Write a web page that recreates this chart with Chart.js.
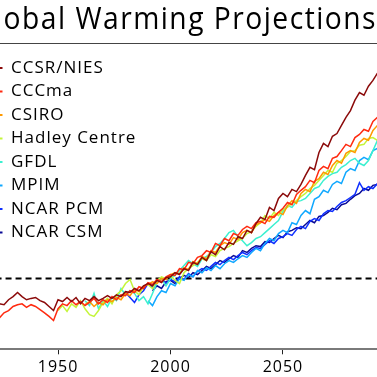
<!DOCTYPE html>
<html>
<head>
<meta charset="utf-8">
<script src="https://cdn.jsdelivr.net/npm/chart.js@4.4.1/dist/chart.umd.min.js"></script>
<style>
  html, body { margin: 0; padding: 0; background: #fff; overflow: hidden; }
  #warmingChart { position: absolute; top: 0; }
</style>
</head>
<body>
<canvas id="warmingChart"></canvas>
<script>
// model runs, temperature change in degC, one value every 2 years from the start year
const seriesNames = ['CCSR/NIES', 'CCCma', 'CSIRO', 'Hadley Centre', 'GFDL', 'MPIM', 'NCAR PCM', 'NCAR CSM'];
const startYears = [1920, 1920, 1962, 1950, 1962, 1990, 1980, 1992];
const yearStep = 2;

const ccsrNies = [
  -0.53, -0.62, -0.56, -0.58, -0.47, -0.40, -0.31, -0.40, -0.47, -0.44,
  -0.42, -0.49, -0.53, -0.62, -0.71, -0.47, -0.51, -0.42, -0.51, -0.42,
  -0.56, -0.44, -0.49, -0.40, -0.49, -0.44, -0.38, -0.44, -0.36, -0.40,
  -0.29, -0.31, -0.22, -0.27, -0.16, -0.11, -0.16, -0.04, -0.09, 0.02,
  0.04, 0.13, 0.09, 0.22, 0.18, 0.36, 0.31, 0.47, 0.40, 0.60,
  0.53, 0.71, 0.64, 0.80, 0.76, 0.93, 0.89, 1.07, 1.02, 1.22,
  1.36, 1.31, 1.58, 1.51, 1.78, 1.89, 1.82, 1.98, 1.93, 2.09,
  2.29, 2.47, 2.42, 2.80, 3.00, 2.93, 3.16, 3.22, 3.40, 3.58,
  3.73, 3.96, 4.13, 4.07, 4.27, 4.40, 4.56, 4.49, 4.71, 4.80,
  4.84
];
const cccma = [
  -0.84, -0.89, -0.87, -0.76, -0.71, -0.62, -0.58, -0.56, -0.64, -0.58,
  -0.62, -0.69, -0.76, -0.84, -0.93, -0.67, -0.56, -0.60, -0.49, -0.58,
  -0.51, -0.60, -0.53, -0.44, -0.56, -0.47, -0.53, -0.40, -0.47, -0.36,
  -0.38, -0.27, -0.31, -0.18, -0.22, -0.09, -0.13, -0.02, -0.07, 0.04,
  0.09, 0.07, 0.22, 0.20, 0.36, 0.33, 0.47, 0.51, 0.62, 0.58,
  0.78, 0.73, 0.89, 0.84, 1.00, 0.96, 1.09, 1.16, 1.11, 1.24,
  1.27, 1.22, 1.38, 1.36, 1.47, 1.56, 1.69, 1.64, 1.87, 1.96,
  2.04, 2.18, 2.13, 2.40, 2.49, 2.44, 2.67, 2.71, 2.84, 2.98,
  2.93, 3.13, 3.20, 3.31, 3.27, 3.49, 3.58, 3.64, 3.60, 3.78,
  3.84
];
const csiro = [
  -0.58, -0.51, -0.62, -0.53, -0.58, -0.47, -0.51, -0.42, -0.47, -0.33,
  -0.38, -0.24, -0.29, -0.18, -0.13, -0.07, -0.11, 0.00, -0.02, 0.09,
  0.13, 0.11, 0.24, 0.20, 0.38, 0.33, 0.49, 0.44, 0.62, 0.58,
  0.73, 0.80, 0.76, 0.91, 0.87, 1.02, 1.07, 1.02, 1.20, 1.24,
  1.31, 1.27, 1.40, 1.47, 1.42, 1.62, 1.73, 1.67, 1.89, 1.98,
  1.93, 2.16, 2.22, 2.36, 2.31, 2.51, 2.62, 2.56, 2.78, 2.84,
  2.80, 3.02, 3.11, 3.07, 3.29, 3.40, 3.36, 3.53, 3.60, 3.67
];
const hadley = [
  -0.71, -0.60, -0.73, -0.56, -0.64, -0.49, -0.67, -0.80, -0.84, -0.71,
  -0.53, -0.44, -0.56, -0.36, -0.27, -0.11, -0.02, -0.27, -0.36, -0.18,
  -0.13, -0.22, -0.04, 0.04, 0.00, 0.07, -0.04, -0.11, 0.13, 0.22,
  0.29, 0.36, 0.44, 0.40, 0.53, 0.49, 0.62, 0.67, 0.71, 0.78,
  0.84, 0.89, 1.00, 1.04, 1.16, 1.24, 1.40, 1.33, 1.47, 1.40,
  1.53, 1.58, 1.67, 1.73, 1.82, 1.89, 2.00, 2.07, 2.18, 2.29,
  2.40, 2.36, 2.56, 2.62, 2.71, 2.82, 2.84, 2.96, 2.98, 3.11,
  3.13, 3.07, 3.20, 3.29, 3.33, 3.40
];
const gfdl = [
  -0.49, -0.60, -0.33, -0.67, -0.49, -0.62, -0.42, -0.49, -0.22, -0.36,
  -0.27, -0.33, -0.49, -0.40, -0.56, -0.33, -0.09, 0.00, -0.16, 0.00,
  0.07, 0.18, 0.29, 0.40, 0.33, 0.27, 0.44, 0.49, 0.58, 0.71,
  0.78, 0.89, 1.02, 1.07, 0.93, 0.84, 0.73, 0.80, 0.89, 0.93,
  1.02, 1.11, 1.20, 1.29, 1.49, 1.62, 1.58, 1.71, 1.73, 1.78,
  1.89, 2.00, 2.04, 2.18, 2.27, 2.33, 2.36, 2.47, 2.53, 2.62,
  2.67, 2.56, 2.51, 2.62, 2.84, 3.07, 3.02, 3.11, 3.18, 3.24
];
const mpim = [
  -0.49, -0.60, -0.40, -0.27, -0.31, -0.11, -0.16, 0.00, -0.04, 0.09,
  0.04, 0.18, 0.13, 0.24, 0.18, 0.29, 0.22, 0.33, 0.40, 0.36,
  0.44, 0.51, 0.47, 0.58, 0.67, 0.62, 0.78, 0.89, 0.84, 1.00,
  1.07, 1.02, 1.24, 1.20, 1.40, 1.51, 1.44, 1.76, 1.82, 1.96,
  1.91, 2.09, 2.16, 2.11, 2.36, 2.44, 2.40, 2.62, 2.69, 2.64,
  2.84, 2.89, 2.82, 3.00, 3.07, 3.13
];
const ncarPcm = [
  -0.31, -0.42, -0.53, -0.36, -0.27, -0.11, -0.20, -0.09, 0.00, -0.11,
  -0.02, -0.07, 0.04, -0.02, 0.11, 0.04, 0.16, 0.22, 0.18, 0.27,
  0.36, 0.31, 0.40, 0.47, 0.42, 0.51, 0.58, 0.53, 0.62, 0.69,
  0.67, 0.76, 0.84, 0.78, 0.89, 0.93, 1.00, 0.96, 1.09, 1.16,
  1.11, 1.27, 1.33, 1.29, 1.44, 1.51, 1.49, 1.60, 1.69, 1.73,
  1.80, 1.87, 2.13, 1.96, 2.04, 2.00, 2.11, 2.09, 2.18, 2.22,
  2.27
];
const ncarCsm = [
  -0.27, -0.16, -0.22, -0.07, -0.04, -0.11, 0.00, 0.07, 0.02, 0.13,
  0.09, 0.18, 0.27, 0.22, 0.31, 0.40, 0.36, 0.44, 0.51, 0.47,
  0.62, 0.58, 0.67, 0.73, 0.71, 0.82, 0.80, 0.89, 0.96, 0.91,
  1.04, 1.07, 1.13, 1.11, 1.20, 1.29, 1.24, 1.38, 1.40, 1.47,
  1.56, 1.53, 1.64, 1.67, 1.76, 1.84, 1.89, 2.00, 1.96, 2.07,
  2.09, 2.16, 2.20, 2.24, 2.29
];
const seriesValues = [ccsrNies, cccma, csiro, hadley, gfdl, mpim, ncarPcm, ncarCsm];

const tickYears = [1950, 2000, 2050];
const referenceLevel = 0;
const chartTitle = 'Global Warming Projections';

const seriesColors = ['#8b0a0a', '#ff2a10', '#ff9a00', '#c4f53a', '#3cf0d0', '#10a8ff', '#1030ff', '#0a0a96'];

// the picture is a crop of a wider figure: the canvas sticks out on the left
const cropLeft = 27;
const canvas = document.getElementById('warmingChart');
canvas.width = 377 + cropLeft;
canvas.height = 377;
canvas.style.left = -cropLeft + 'px';

const xMin = 1924.2 - cropLeft / 2.25;
const xMax = 2091.8;
const font = 'Open Sans';

function toPoints(start, values) {
  return values.map((v, i) => ({ x: start + yearStep * i, y: v }));
}

const datasets = seriesNames.map((name, i) => ({
  label: name,
  data: toPoints(startYears[i], seriesValues[i]),
  borderColor: seriesColors[i],
  backgroundColor: seriesColors[i],
  borderWidth: 1.5,
  pointRadius: 0,
  tension: 0
}));
datasets.push({
  label: 'reference',
  data: [{ x: 1900, y: referenceLevel }, { x: 2100, y: referenceLevel }],
  borderColor: '#000',
  borderWidth: 2,
  borderDash: [6, 4],
  pointRadius: 0
});

// the original lettering runs wider than Open Sans, the title most of all
const wideText = {
  id: 'wideText',
  beforeDraw(chart) {
    chart.ctx.letterSpacing = '1px';
    const block = chart.titleBlock;
    if (block && !block.spaced) {
      const drawTitle = block.draw.bind(block);
      block.draw = area => {
        chart.ctx.letterSpacing = '1.65px';
        drawTitle(area);
        chart.ctx.letterSpacing = '1px';
      };
      block.spaced = true;
    }
  }
};

new Chart(canvas.getContext('2d'), {
  type: 'line',
  data: { datasets: datasets },
  plugins: [wideText],
  options: {
    responsive: false,
    animation: false,
    events: [],
    layout: { padding: { bottom: -4.5 } },
    scales: {
      x: {
        type: 'linear',
        position: 'bottom',
        min: xMin,
        max: xMax,
        afterBuildTicks: axis => { axis.ticks = tickYears.map(v => ({ value: v })); },
        grid: { display: true, drawOnChartArea: false, drawTicks: true, tickLength: 5, tickColor: '#222', tickWidth: 1 },
        border: { display: true, color: '#7a7a7a', width: 2 },
        ticks: { color: '#000', padding: 4, maxRotation: 0, autoSkip: false,
                 font: { family: font, size: 16 }, callback: v => String(v) }
      },
      xTop: {
        type: 'linear',
        position: 'top',
        min: xMin,
        max: xMax,
        grid: { display: false, drawTicks: false },
        border: { color: '#444', width: 1 },
        ticks: { display: false }
      },
      y: { display: false, min: -1.57, max: 5.23 }
    },
    plugins: {
      title: {
        display: true,
        text: chartTitle,
        color: '#000',
        font: { family: font, size: 31.5, weight: 'normal' },
        padding: { top: 1, bottom: 4.2 }
      },
      tooltip: { enabled: false },
      legend: {
        position: 'chartArea',
        align: 'start',
        title: { display: true, text: '', font: { size: 1, lineHeight: 1 }, padding: { top: 52, bottom: 0 } },
        labels: {
          usePointStyle: true,
          pointStyle: 'line',
          pointStyleWidth: 23,
          padding: 6.5,
          color: '#000',
          font: { family: font, size: 17 },
          filter: item => item.text !== 'reference',
          generateLabels: chart => Chart.defaults.plugins.legend.labels.generateLabels(chart)
            .map(item => Object.assign(item, { lineWidth: 2 }))
        }
      }
    }
  }
});
</script>
</body>
</html>
